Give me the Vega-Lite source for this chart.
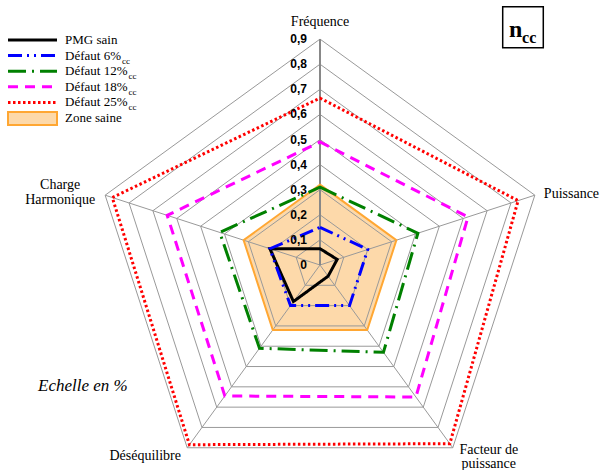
{
 "$schema": "https://vega.github.io/schema/vega-lite/v6.json",
 "width": 600, "height": 470, "autosize": "none", "padding": 0,
 "background": "white",
 "config": {"view": {"stroke": null}},
 "datasets": {
  "values": [
   {"series":"PMG sain","k":0,"value":0.065},{"series":"PMG sain","k":1,"value":0.072},{"series":"PMG sain","k":2,"value":0.055},{"series":"PMG sain","k":3,"value":0.18},{"series":"PMG sain","k":4,"value":0.21},
   {"series":"Défaut 6%","k":0,"value":0.15},{"series":"Défaut 6%","k":1,"value":0.20},{"series":"Défaut 6%","k":2,"value":0.20},{"series":"Défaut 6%","k":3,"value":0.20},{"series":"Défaut 6%","k":4,"value":0.21},
   {"series":"Défaut 12%","k":0,"value":0.31},{"series":"Défaut 12%","k":1,"value":0.41},{"series":"Défaut 12%","k":2,"value":0.43},{"series":"Défaut 12%","k":3,"value":0.41},{"series":"Défaut 12%","k":4,"value":0.42},
   {"series":"Défaut 18%","k":0,"value":0.49},{"series":"Défaut 18%","k":1,"value":0.62},{"series":"Défaut 18%","k":2,"value":0.65},{"series":"Défaut 18%","k":3,"value":0.645},{"series":"Défaut 18%","k":4,"value":0.64},
   {"series":"Défaut 25%","k":0,"value":0.665},{"series":"Défaut 25%","k":1,"value":0.83},{"series":"Défaut 25%","k":2,"value":0.88},{"series":"Défaut 25%","k":3,"value":0.885},{"series":"Défaut 25%","k":4,"value":0.87},
   {"series":"Zone saine","k":0,"value":0.32},{"series":"Zone saine","k":1,"value":0.32},{"series":"Zone saine","k":2,"value":0.32},{"series":"Zone saine","k":3,"value":0.32},{"series":"Zone saine","k":4,"value":0.32}
  ],
  "levels": [
   {"level":0,"label":"0","ks":[0,1,2,3,4]},{"level":0.1,"label":"0,1","ks":[0,1,2,3,4]},{"level":0.2,"label":"0,2","ks":[0,1,2,3,4]},{"level":0.3,"label":"0,3","ks":[0,1,2,3,4]},{"level":0.4,"label":"0,4","ks":[0,1,2,3,4]},
   {"level":0.5,"label":"0,5","ks":[0,1,2,3,4]},{"level":0.6,"label":"0,6","ks":[0,1,2,3,4]},{"level":0.7,"label":"0,7","ks":[0,1,2,3,4]},{"level":0.8,"label":"0,8","ks":[0,1,2,3,4]},{"level":0.9,"label":"0,9","ks":[0,1,2,3,4]}
  ],
  "axes": [
   {"k":0,"name":"Fréquence"},{"k":1,"name":"Puissance"},{"k":2,"name":"Facteur de\npuissance"},{"k":3,"name":"Déséquilibre"},{"k":4,"name":"Charge\nHarmonique"}
  ],
  "legend": [
   {"i":0,"series":"PMG sain","label":"PMG sain"},{"i":1,"series":"Défaut 6%","label":"Défaut 6%"},{"i":2,"series":"Défaut 12%","label":"Défaut 12%"},
   {"i":3,"series":"Défaut 18%","label":"Défaut 18%"},{"i":4,"series":"Défaut 25%","label":"Défaut 25%"},{"i":5,"series":"Zone saine","label":"Zone saine"}
  ]
 },
 "layer": [
  {
   "data": {"name":"values"},
   "transform": [{"filter":"datum.series == 'Zone saine'"},{"calculate":"datum.value*sin(datum.k*2*PI/5)","as":"x"},{"calculate":"datum.value*cos(datum.k*2*PI/5)","as":"y"}],
   "mark": {"type":"line","interpolate":"linear-closed","fill":"#fdd9aa","stroke":null,"strokeWidth":0},
   "encoding": {
    "x": {"field":"x","type":"quantitative","scale":{"domain":[-1.2749,1.11554],"nice":false,"zero":false},"axis":null},
    "y": {"field":"y","type":"quantitative","scale":{"domain":[-0.81673,1.05578],"nice":false,"zero":false},"axis":null},
    "order": {"field":"k"}
   }
  },
  {
   "data": {"name":"levels"},
   "transform": [{"filter":"datum.level > 0"},{"flatten":["ks"],"as":["k"]},{"calculate":"datum.level*sin(datum.k*2*PI/5)","as":"x"},{"calculate":"datum.level*cos(datum.k*2*PI/5)","as":"y"}],
   "mark": {"type":"line","interpolate":"linear-closed","stroke":"#999999","strokeWidth":1},
   "encoding": {
    "x": {"field":"x","type":"quantitative","scale":{"domain":[-1.2749,1.11554],"nice":false,"zero":false},"axis":null},
    "y": {"field":"y","type":"quantitative","scale":{"domain":[-0.81673,1.05578],"nice":false,"zero":false},"axis":null},
    "detail": {"field":"level"},
    "order": {"field":"k"}
   }
  },
  {
   "data": {"name":"axes"},
   "transform": [{"calculate":"0.9*sin(datum.k*2*PI/5)","as":"x"},{"calculate":"0.9*cos(datum.k*2*PI/5)","as":"y"}],
   "mark": {"type":"rule","stroke":"#999999","strokeWidth":1},
   "encoding": {
    "x": {"field":"x","type":"quantitative","scale":{"domain":[-1.2749,1.11554],"nice":false,"zero":false},"axis":null},
    "y": {"field":"y","type":"quantitative","scale":{"domain":[-0.81673,1.05578],"nice":false,"zero":false},"axis":null},
    "x2": {"datum":0},
    "y2": {"datum":0}
   }
  },
  {
   "data": {"name":"axes"},
   "transform": [{"filter":"datum.k == 0"}],
   "mark": {"type":"rule","stroke":"#888888","strokeWidth":2},
   "encoding": {
    "x": {"datum":0,"type":"quantitative","scale":{"domain":[-1.2749,1.11554],"nice":false,"zero":false},"axis":null},
    "y": {"datum":0,"type":"quantitative","scale":{"domain":[-0.81673,1.05578],"nice":false,"zero":false},"axis":null},
    "y2": {"datum":0.9}
   }
  },
  {
   "data": {"name":"values"},
   "transform": [{"filter":"datum.series == 'Zone saine'"},{"calculate":"datum.value*sin(datum.k*2*PI/5)","as":"x"},{"calculate":"datum.value*cos(datum.k*2*PI/5)","as":"y"}],
   "mark": {"type":"line","interpolate":"linear-closed","stroke":"#ffa733","strokeWidth":2},
   "encoding": {
    "x": {"field":"x","type":"quantitative","scale":{"domain":[-1.2749,1.11554],"nice":false,"zero":false},"axis":null},
    "y": {"field":"y","type":"quantitative","scale":{"domain":[-0.81673,1.05578],"nice":false,"zero":false},"axis":null},
    "order": {"field":"k"}
   }
  },
  {
   "data": {"name":"values"},
   "transform": [{"filter":"datum.series != 'Zone saine'"},{"calculate":"datum.value*sin(datum.k*2*PI/5)","as":"x"},{"calculate":"datum.value*cos(datum.k*2*PI/5)","as":"y"}],
   "mark": {"type":"line","interpolate":"linear-closed","strokeWidth":3},
   "encoding": {
    "x": {"field":"x","type":"quantitative","scale":{"domain":[-1.2749,1.11554],"nice":false,"zero":false},"axis":null},
    "y": {"field":"y","type":"quantitative","scale":{"domain":[-0.81673,1.05578],"nice":false,"zero":false},"axis":null},
    "color": {"field":"series","type":"nominal","scale":{"domain":["PMG sain","Défaut 6%","Défaut 12%","Défaut 18%","Défaut 25%"],"range":["#000000","#0000ff","#008000","#ff00ff","#ff0000"]},"legend":null},
    "strokeDash": {"field":"series","type":"nominal","scale":{"domain":["PMG sain","Défaut 6%","Défaut 12%","Défaut 18%","Défaut 25%"],"range":[[1,0],[14,5,2,5,2,5],[18,6,2,6],[10,7],[2.5,2.5]]},"legend":null},
    "order": {"field":"k"}
   }
  },
  {
   "data": {"name":"levels"},
   "mark": {"type":"text","align":"right","baseline":"middle","dx":-13,"font":"Liberation Sans","fontWeight":"bold","fontSize":12,"color":"#000000"},
   "encoding": {
    "x": {"datum":0,"type":"quantitative","scale":{"domain":[-1.2749,1.11554],"nice":false,"zero":false},"axis":null},
    "y": {"field":"level","type":"quantitative","scale":{"domain":[-0.81673,1.05578],"nice":false,"zero":false},"axis":null},
    "text": {"field":"label"}
   }
  },
  {
   "data": {"name":"axes"},
   "transform": [{"calculate":"0.9*sin(datum.k*2*PI/5)","as":"x"},{"calculate":"0.9*cos(datum.k*2*PI/5)","as":"y"},{"filter":"datum.k == 0"}],
   "mark": {"type":"text","align":"center","baseline":"alphabetic","dy":-13,"font":"Liberation Serif","fontSize":14,"color":"#000000"},
   "encoding": {
    "x": {"field":"x","type":"quantitative","scale":{"domain":[-1.2749,1.11554],"nice":false,"zero":false},"axis":null},
    "y": {"field":"y","type":"quantitative","scale":{"domain":[-0.81673,1.05578],"nice":false,"zero":false},"axis":null},
    "text": {"field":"name"}
   }
  },
  {
   "data": {"name":"axes"},
   "transform": [{"calculate":"0.9*sin(datum.k*2*PI/5)","as":"x"},{"calculate":"0.9*cos(datum.k*2*PI/5)","as":"y"},{"filter":"datum.k == 1"}],
   "mark": {"type":"text","align":"left","baseline":"alphabetic","dx":9,"dy":2.5,"font":"Liberation Serif","fontSize":14,"color":"#000000"},
   "encoding": {
    "x": {"field":"x","type":"quantitative","scale":{"domain":[-1.2749,1.11554],"nice":false,"zero":false},"axis":null},
    "y": {"field":"y","type":"quantitative","scale":{"domain":[-0.81673,1.05578],"nice":false,"zero":false},"axis":null},
    "text": {"field":"name"}
   }
  },
  {
   "data": {"name":"axes"},
   "transform": [{"calculate":"0.9*sin(datum.k*2*PI/5)","as":"x"},{"calculate":"0.9*cos(datum.k*2*PI/5)","as":"y"},{"filter":"datum.k == 2"}],
   "mark": {"type":"text","align":"center","baseline":"alphabetic","dx":36,"dy":6,"lineBreak":"\n","lineHeight":14,"font":"Liberation Serif","fontSize":14,"color":"#000000"},
   "encoding": {
    "x": {"field":"x","type":"quantitative","scale":{"domain":[-1.2749,1.11554],"nice":false,"zero":false},"axis":null},
    "y": {"field":"y","type":"quantitative","scale":{"domain":[-0.81673,1.05578],"nice":false,"zero":false},"axis":null},
    "text": {"field":"name"}
   }
  },
  {
   "data": {"name":"axes"},
   "transform": [{"calculate":"0.9*sin(datum.k*2*PI/5)","as":"x"},{"calculate":"0.9*cos(datum.k*2*PI/5)","as":"y"},{"filter":"datum.k == 3"}],
   "mark": {"type":"text","align":"center","baseline":"alphabetic","dx":-42,"dy":12,"font":"Liberation Serif","fontSize":14,"color":"#000000"},
   "encoding": {
    "x": {"field":"x","type":"quantitative","scale":{"domain":[-1.2749,1.11554],"nice":false,"zero":false},"axis":null},
    "y": {"field":"y","type":"quantitative","scale":{"domain":[-0.81673,1.05578],"nice":false,"zero":false},"axis":null},
    "text": {"field":"name"}
   }
  },
  {
   "data": {"name":"axes"},
   "transform": [{"calculate":"0.9*sin(datum.k*2*PI/5)","as":"x"},{"calculate":"0.9*cos(datum.k*2*PI/5)","as":"y"},{"filter":"datum.k == 4"}],
   "mark": {"type":"text","align":"center","baseline":"alphabetic","dx":-45,"dy":-6,"lineBreak":"\n","lineHeight":15,"font":"Liberation Serif","fontSize":14,"color":"#000000"},
   "encoding": {
    "x": {"field":"x","type":"quantitative","scale":{"domain":[-1.2749,1.11554],"nice":false,"zero":false},"axis":null},
    "y": {"field":"y","type":"quantitative","scale":{"domain":[-0.81673,1.05578],"nice":false,"zero":false},"axis":null},
    "text": {"field":"name"}
   }
  },
  {
   "data": {"name":"legend"},
   "transform": [{"filter":"datum.i < 5"},{"calculate":"0.8964 - 0.06215*datum.i","as":"ly"}],
   "mark": {"type":"rule","strokeWidth":3},
   "encoding": {
    "x": {"datum":-1.243,"type":"quantitative","scale":{"domain":[-1.2749,1.11554],"nice":false,"zero":false},"axis":null},
    "x2": {"datum":-1.0478},
    "y": {"field":"ly","type":"quantitative","scale":{"domain":[-0.81673,1.05578],"nice":false,"zero":false},"axis":null},
    "color": {"field":"series","type":"nominal","scale":{"domain":["PMG sain","Défaut 6%","Défaut 12%","Défaut 18%","Défaut 25%"],"range":["#000000","#0000ff","#008000","#ff00ff","#ff0000"]},"legend":null},
    "strokeDash": {"field":"series","type":"nominal","scale":{"domain":["PMG sain","Défaut 6%","Défaut 12%","Défaut 18%","Défaut 25%"],"range":[[1,0],[14,5,2,5,2,5],[18,6,2,6],[10,7],[2.5,2.5]]},"legend":null}
   }
  },
  {
   "data": {"values":[{}]},
   "mark": {"type":"rect","fill":"#fdd9aa","stroke":"#ffa733","strokeWidth":2},
   "encoding": {
    "x": {"datum":-1.243,"type":"quantitative","scale":{"domain":[-1.2749,1.11554],"nice":false,"zero":false},"axis":null},
    "x2": {"datum":-1.0478},
    "y": {"datum":0.6096,"type":"quantitative","scale":{"domain":[-0.81673,1.05578],"nice":false,"zero":false},"axis":null},
    "y2": {"datum":0.5578}
   }
  },
  {
   "data": {"name":"legend"},
   "transform": [{"calculate":"0.8964 - 0.06215*datum.i","as":"ly"}],
   "mark": {"type":"text","align":"left","baseline":"middle","font":"Liberation Serif","fontSize":13,"color":"#000000"},
   "encoding": {
    "x": {"datum":-1.0159,"type":"quantitative","scale":{"domain":[-1.2749,1.11554],"nice":false,"zero":false},"axis":null},
    "y": {"field":"ly","type":"quantitative","scale":{"domain":[-0.81673,1.05578],"nice":false,"zero":false},"axis":null},
    "text": {"field":"label"}
   }
  },
  {
   "data": {"name":"legend"},
   "transform": [{"filter":"datum.i == 1"},{"calculate":"0.8964 - 0.06215*datum.i","as":"ly"}],
   "mark": {"type":"text","align":"left","baseline":"middle","dx":57,"dy":5,"font":"Liberation Serif","fontSize":9,"color":"#000000"},
   "encoding": {
    "x": {"datum":-1.0159,"type":"quantitative","scale":{"domain":[-1.2749,1.11554],"nice":false,"zero":false},"axis":null},
    "y": {"field":"ly","type":"quantitative","scale":{"domain":[-0.81673,1.05578],"nice":false,"zero":false},"axis":null},
    "text": {"value":"cc"}
   }
  },
  {
   "data": {"name":"legend"},
   "transform": [{"filter":"datum.i >= 2 && datum.i <= 4"},{"calculate":"0.8964 - 0.06215*datum.i","as":"ly"}],
   "mark": {"type":"text","align":"left","baseline":"middle","dx":63.5,"dy":5,"font":"Liberation Serif","fontSize":9,"color":"#000000"},
   "encoding": {
    "x": {"datum":-1.0159,"type":"quantitative","scale":{"domain":[-1.2749,1.11554],"nice":false,"zero":false},"axis":null},
    "y": {"field":"ly","type":"quantitative","scale":{"domain":[-0.81673,1.05578],"nice":false,"zero":false},"axis":null},
    "text": {"value":"cc"}
   }
  },
  {
   "data": {"values":[{}]},
   "mark": {"type":"text","align":"left","baseline":"middle","font":"Liberation Serif","fontStyle":"italic","fontSize":17,"color":"#000000"},
   "encoding": {
    "x": {"datum":-1.1235,"type":"quantitative","scale":{"domain":[-1.2749,1.11554],"nice":false,"zero":false},"axis":null},
    "y": {"datum":-0.482,"type":"quantitative","scale":{"domain":[-0.81673,1.05578],"nice":false,"zero":false},"axis":null},
    "text": {"value":"Echelle en %"}
   }
  },
  {
   "data": {"values":[{}]},
   "mark": {"type":"rect","fill":null,"fillOpacity":0,"stroke":"#000000","strokeWidth":1.5},
   "encoding": {
    "x": {"datum":0.7279,"type":"quantitative","scale":{"domain":[-1.2749,1.11554],"nice":false,"zero":false},"axis":null},
    "x2": {"datum":0.8896},
    "y": {"datum":1.0291,"type":"quantitative","scale":{"domain":[-0.81673,1.05578],"nice":false,"zero":false},"axis":null},
    "y2": {"datum":0.8657}
   }
  },
  {
   "data": {"values":[{}]},
   "mark": {"type":"text","align":"left","baseline":"alphabetic","font":"Liberation Serif","fontWeight":"bold","fontSize":24,"color":"#000000"},
   "encoding": {
    "x": {"datum":0.753,"type":"quantitative","scale":{"domain":[-1.2749,1.11554],"nice":false,"zero":false},"axis":null},
    "y": {"datum":0.908,"type":"quantitative","scale":{"domain":[-0.81673,1.05578],"nice":false,"zero":false},"axis":null},
    "text": {"value":"n"}
   }
  },
  {
   "data": {"values":[{}]},
   "mark": {"type":"text","align":"left","baseline":"alphabetic","font":"Liberation Serif","fontWeight":"bold","fontSize":16,"color":"#000000"},
   "encoding": {
    "x": {"datum":0.805,"type":"quantitative","scale":{"domain":[-1.2749,1.11554],"nice":false,"zero":false},"axis":null},
    "y": {"datum":0.884,"type":"quantitative","scale":{"domain":[-0.81673,1.05578],"nice":false,"zero":false},"axis":null},
    "text": {"value":"cc"}
   }
  }
 ]
}
